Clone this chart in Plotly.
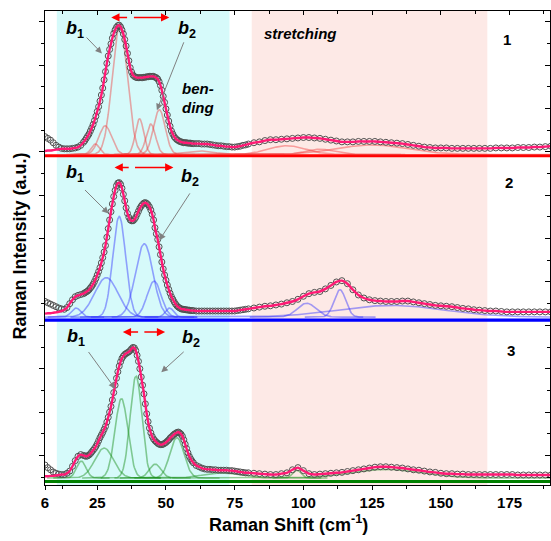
import numpy as np
import plotly.graph_objects as go

# ---------------- data ----------------
X_LOW = list(range(6, 20))                      # 6..19 step 1
X_MID = [20 + 0.5 * i for i in range(81)]       # 20..60 step 0.5
X_HIGH = list(range(61, 81))                    # 61..80 step 1
X_TAIL = list(range(82, 191, 2))                # 82..190 step 2

# Panel 1 (red) measured intensity (a.u., above its baseline)
obs1_low = [0.44, 0.40, 0.36, 0.30, 0.24, 0.20, 0.17, 0.16, 0.16, 0.16, 0.17, 0.18, 0.20, 0.24]
fit1_low = [0.11, 0.12, 0.12, 0.13, 0.14, 0.15, 0.16, 0.16, 0.16, 0.16, 0.17, 0.18, 0.20, 0.24]
obs1_mid = [0.31, 0.35, 0.40, 0.45, 0.50, 0.57, 0.64, 0.72, 0.81, 0.91, 1.02, 1.13, 1.26, 1.40,
            1.56, 1.75, 1.94, 2.13, 2.30, 2.45, 2.58, 2.71, 2.82, 2.90, 2.96, 3.00, 3.01, 2.97,
            2.90, 2.81, 2.68, 2.53, 2.36, 2.19, 2.03, 1.93, 1.86, 1.83, 1.81, 1.80, 1.80, 1.80,
            1.80, 1.80, 1.81, 1.81, 1.82, 1.82, 1.83, 1.83, 1.83, 1.83, 1.81, 1.80, 1.77, 1.71,
            1.62, 1.51, 1.37, 1.23, 1.08, 0.94, 0.80, 0.68, 0.57, 0.50, 0.44, 0.40, 0.37, 0.35,
            0.33, 0.32, 0.31, 0.30, 0.30, 0.30, 0.29, 0.29, 0.29, 0.28, 0.28]
obs1_high = [0.28, 0.28, 0.27, 0.27, 0.27, 0.26, 0.25, 0.24, 0.23, 0.23, 0.22, 0.21, 0.21, 0.20,
             0.20, 0.21, 0.22, 0.24, 0.25, 0.27]
obs1_tail = [0.30, 0.32, 0.35, 0.37, 0.37, 0.38, 0.39, 0.40, 0.41, 0.42, 0.42, 0.41, 0.40, 0.38,
             0.36, 0.34, 0.32, 0.32, 0.32, 0.33, 0.33, 0.33, 0.33, 0.32, 0.31, 0.30, 0.29, 0.28,
             0.26, 0.24, 0.22, 0.20, 0.19, 0.18, 0.18, 0.18, 0.17, 0.17, 0.17, 0.17, 0.17, 0.17,
             0.17, 0.17, 0.18, 0.18, 0.18, 0.18, 0.19, 0.19, 0.19, 0.20, 0.20, 0.21, 0.22]

# Panel 2 (blue)
obs2_low = [0.43, 0.40, 0.37, 0.34, 0.31, 0.28, 0.26, 0.25, 0.29, 0.38, 0.47, 0.54, 0.57, 0.59]
fit2_low = [0.15, 0.16, 0.16, 0.17, 0.18, 0.19, 0.21, 0.24, 0.29, 0.38, 0.47, 0.54, 0.57, 0.59]
obs2_mid = [0.61, 0.63, 0.65, 0.67, 0.70, 0.74, 0.78, 0.83, 0.89, 0.96, 1.04, 1.12, 1.21, 1.32,
            1.44, 1.57, 1.72, 1.91, 2.11, 2.31, 2.50, 2.68, 2.85, 2.99, 3.10, 3.16, 3.17, 3.13,
            3.04, 2.90, 2.75, 2.59, 2.46, 2.37, 2.31, 2.29, 2.29, 2.32, 2.37, 2.44, 2.51, 2.58,
            2.63, 2.67, 2.70, 2.71, 2.69, 2.66, 2.61, 2.54, 2.44, 2.31, 2.13, 1.99, 1.86, 1.69,
            1.51, 1.34, 1.18, 1.04, 0.92, 0.81, 0.71, 0.62, 0.54, 0.48, 0.42, 0.37, 0.33, 0.30,
            0.28, 0.26, 0.25, 0.25, 0.24, 0.24, 0.23, 0.23, 0.22, 0.22, 0.22]
obs2_high = [0.21, 0.21, 0.21, 0.21, 0.21, 0.21, 0.21, 0.21, 0.21, 0.21, 0.21, 0.21, 0.21, 0.21,
             0.21, 0.22, 0.23, 0.24, 0.25, 0.26]
obs2_tail = [0.28, 0.30, 0.32, 0.33, 0.35, 0.37, 0.40, 0.43, 0.48, 0.55, 0.61, 0.64, 0.66, 0.72,
             0.80, 0.88, 0.91, 0.84, 0.70, 0.58, 0.51, 0.47, 0.45, 0.44, 0.43, 0.43, 0.43, 0.44,
             0.44, 0.42, 0.40, 0.38, 0.36, 0.34, 0.33, 0.32, 0.31, 0.29, 0.27, 0.26, 0.24, 0.23,
             0.22, 0.21, 0.21, 0.20, 0.19, 0.19, 0.19, 0.19, 0.19, 0.19, 0.19, 0.19, 0.19]

# Panel 3 (green)
obs3_low = [0.38, 0.32, 0.27, 0.22, 0.19, 0.17, 0.16, 0.16, 0.19, 0.24, 0.35, 0.48, 0.58, 0.62]
fit3_low = [0.12, 0.12, 0.13, 0.13, 0.14, 0.15, 0.16, 0.16, 0.19, 0.24, 0.35, 0.48, 0.58, 0.62]
obs3_mid = [0.60, 0.59, 0.58, 0.59, 0.61, 0.64, 0.68, 0.72, 0.76, 0.81, 0.87, 0.94, 1.01, 1.07,
            1.13, 1.20, 1.27, 1.37, 1.48, 1.60, 1.73, 1.88, 2.05, 2.22, 2.38, 2.53, 2.66, 2.76,
            2.84, 2.89, 2.93, 2.95, 2.97, 2.99, 3.02, 3.06, 3.09, 3.08, 3.02, 2.91, 2.77, 2.60,
            2.41, 2.22, 2.02, 1.79, 1.56, 1.38, 1.23, 1.12, 1.04, 0.98, 0.94, 0.91, 0.88, 0.86,
            0.85, 0.85, 0.86, 0.88, 0.90, 0.93, 0.96, 1.00, 1.03, 1.06, 1.09, 1.11, 1.13, 1.14,
            1.12, 1.09, 1.04, 0.96, 0.86, 0.76, 0.66, 0.58, 0.52, 0.47, 0.43]
obs3_high = [0.37, 0.34, 0.31, 0.29, 0.28, 0.28, 0.27, 0.27, 0.26, 0.26, 0.26, 0.26, 0.25, 0.25,
             0.24, 0.23, 0.22, 0.21, 0.20, 0.20]
obs3_tail = [0.19, 0.18, 0.17, 0.16, 0.16, 0.18, 0.20, 0.27, 0.32, 0.25, 0.18, 0.16, 0.17, 0.18,
             0.19, 0.20, 0.21, 0.23, 0.25, 0.27, 0.29, 0.31, 0.33, 0.34, 0.34, 0.33, 0.32, 0.31,
             0.29, 0.27, 0.26, 0.24, 0.22, 0.21, 0.19, 0.18, 0.18, 0.17, 0.17, 0.16, 0.16, 0.16,
             0.16, 0.16, 0.16, 0.16, 0.16, 0.16, 0.15, 0.15, 0.15, 0.15, 0.15, 0.15, 0.15]

# Fitted component peaks: centre (cm-1), height (a.u.), FWHM (cm-1)
peak1_center = [24.3, 27.9, 33.2, 40.4, 44.5, 47.6, 62.0, 94.0, 106.0, 125.0]
peak1_height = [0.24, 0.66, 2.95, 0.82, 0.70, 1.03, 0.08, 0.20, 0.12, 0.22]
peak1_fwhm = [3.5, 5.5, 6.5, 3.6, 4.0, 5.0, 12.0, 16.0, 12.0, 30.0]

peak2_center = [17.3, 28.3, 33.0, 42.1, 45.7, 51.3, 101.2, 113.3, 132.0]
peak2_height = [0.21, 0.91, 2.32, 1.69, 0.83, 0.21, 0.32, 0.63, 0.27]
peak2_fwhm = [4.0, 10.0, 5.5, 7.5, 6.0, 3.5, 8.0, 5.0, 45.0]

peak3_center = [19.2, 27.5, 33.8, 39.1, 46.1, 54.0, 70.0, 97.6, 130.0]
peak3_height = [0.39, 0.69, 1.83, 2.35, 0.32, 0.93, 0.12, 0.18, 0.20]
peak3_fwhm = [4.0, 8.0, 5.5, 5.0, 5.0, 6.0, 15.0, 3.5, 30.0]

X_TICKS = [6, 25, 50, 75, 100, 125, 150, 175]
X_TICK_TEXT = ["6", "25", "50", "75", "100", "125", "150", "175"]
PANEL_LABELS = ["1", "2", "3"]

# ---------------- layout constants (positions / styles) ----------------
X_RANGE = [6, 189.7]
Y_RANGE = [-0.681, 10.247]
OFFSETS = [6.91, 3.12, -0.60]          # vertical stacking of the three spectra
COMP_BASE = [0.03, 0.07, 0.08]
BASE_COLORS = ["#ff0000", "#0000ff", "#008000"]
COMP_COLORS = ["rgba(240,50,50,0.42)", "rgba(50,50,255,0.45)", "rgba(20,140,20,0.45)"]
FIT_COLOR = "#ff1a75"
FONT = "Liberation Sans, Arial, sans-serif"

x_all = X_LOW + X_MID + X_HIGH + X_TAIL
panels = [
    (obs1_low + obs1_mid + obs1_high + obs1_tail, fit1_low + obs1_mid + obs1_high + obs1_tail,
     peak1_center, peak1_height, peak1_fwhm),
    (obs2_low + obs2_mid + obs2_high + obs2_tail, fit2_low + obs2_mid + obs2_high + obs2_tail,
     peak2_center, peak2_height, peak2_fwhm),
    (obs3_low + obs3_mid + obs3_high + obs3_tail, fit3_low + obs3_mid + obs3_high + obs3_tail,
     peak3_center, peak3_height, peak3_fwhm),
]

fig = go.Figure()

# background regions
fig.add_shape(type="rect", xref="x", yref="paper", x0=10.3, x1=73.1, y0=0, y1=1,
              fillcolor="#d6fafa", line=dict(width=0), layer="below")
fig.add_shape(type="rect", xref="x", yref="paper", x0=81.2, x1=166.9, y0=0, y1=1,
              fillcolor="#fde9e6", line=dict(width=0), layer="below")

xs = np.linspace(6, 190, 737)
for i, (obs, fit, pc, ph, pw) in enumerate(panels):
    off = OFFSETS[i]
    # baseline
    fig.add_trace(go.Scatter(x=[X_RANGE[0], 190], y=[off, off], mode="lines",
                             line=dict(color=BASE_COLORS[i], width=3.2), hoverinfo="skip"))
    # components
    for c, h, w in zip(pc, ph, pw):
        sel = (xs > c - 2.6 * w) & (xs < c + 2.6 * w)
        xx = xs[sel]
        yy = off + COMP_BASE[i] + h * np.exp(-4 * np.log(2) * ((xx - c) / w) ** 2)
        fig.add_trace(go.Scatter(x=xx, y=yy, mode="lines",
                                 line=dict(color=COMP_COLORS[i], width=1.6), hoverinfo="skip"))
    # measured points
    fig.add_trace(go.Scatter(x=x_all, y=[off + v for v in obs], mode="markers",
                             marker=dict(symbol="circle-open", size=6, color="#505050",
                                         line=dict(width=1, color="#505050"))))
    # cumulative fit
    fig.add_trace(go.Scatter(x=x_all, y=[off + v for v in fit], mode="lines",
                             line=dict(color=FIT_COLOR, width=2.4, shape="spline", smoothing=0.5)))

# dummy trace to carry the mirrored (inside-tick) axes
fig.add_trace(go.Scatter(x=[None], y=[None], xaxis="x2", yaxis="y2", hoverinfo="skip"))

minor_x = [12.5 + 25 * k for k in range(8)]
fig.update_layout(
    width=551, height=541,
    margin=dict(l=45, r=1, t=11, b=56, autoexpand=False),
    plot_bgcolor="white", paper_bgcolor="white",
    showlegend=False,
    font=dict(family=FONT, color="black"),
    xaxis=dict(range=X_RANGE, tickvals=X_TICKS, ticktext=X_TICK_TEXT, ticks="outside",
               ticklen=4, tickwidth=1, tickcolor="black", showline=True, linecolor="black",
               linewidth=1, showgrid=False, zeroline=False, automargin=False,
               tickfont=dict(size=15, family=FONT, weight="bold", color="black"),
               minor=dict(tickvals=minor_x, ticks="outside", ticklen=3, tickcolor="black")),
    xaxis2=dict(range=X_RANGE, overlaying="x", side="top", anchor="y", tickvals=X_TICKS[1:],
                ticks="inside", ticklen=4, tickcolor="black", showticklabels=False,
                showline=True, linecolor="black", linewidth=1, showgrid=False, zeroline=False,
                automargin=False,
                minor=dict(tickvals=minor_x, ticks="inside", ticklen=3, tickcolor="black")),
    yaxis=dict(range=Y_RANGE, tick0=0, dtick=1, ticks="outside", ticklen=5, tickcolor="black",
               showticklabels=False, showline=True, linecolor="black", linewidth=1,
               showgrid=False, zeroline=False, automargin=False,
               minor=dict(dtick=0.5, tick0=0, ticks="outside", ticklen=3, tickcolor="black")),
    yaxis2=dict(range=Y_RANGE, overlaying="y", side="right", anchor="x", tick0=0, dtick=1,
                ticks="inside", ticklen=5, tickcolor="black", showticklabels=False,
                showline=True, linecolor="black", linewidth=1, showgrid=False, zeroline=False,
                automargin=False,
                minor=dict(dtick=0.5, tick0=0, ticks="inside", ticklen=3, tickcolor="black")),
)

ann = []
# axis titles
ann.append(dict(text="Raman Shift (cm<sup>-1</sup>)", xref="paper", yref="paper",
                x=0.483, y=-0.082, showarrow=False, xanchor="center", yanchor="middle",
                font=dict(size=18, family=FONT, weight="bold", color="black")))
ann.append(dict(text="Raman Intensity (a.u.)", xref="paper", yref="paper",
                x=-0.0485, y=0.504, showarrow=False, textangle=-90, xanchor="center",
                yanchor="middle", font=dict(size=18, family=FONT, weight="bold", color="black")))

b_font = dict(size=18, family=FONT, weight="bold", color="black")
labels = [
    ((17.0, 9.83), (26.7, 9.27), (20.6, 9.67), (57.8, 9.83), (46.7, 7.96), (56.7, 9.56),
     10.10, (30.1, 36.4), (51.2, 37.8), (173.9, 9.60)),
    ((16.8, 6.50), (29.1, 5.58), (20.0, 6.155), (58.6, 6.42), (47.6, 4.96), (59.05, 6.077),
     6.64, (31.3, 37.0), (52.7, 38.2), (174.9, 6.29)),
    ((17.3, 2.73), (31.5, 1.54), (21.45, 2.42), (59.2, 2.70), (48.3, 1.92), (57.0, 2.42),
     2.845, (34.3, 40.4), (49.7, 41.6), (175.5, 2.42)),
]
for i, (b1, h1, t1, b2, h2, t2, ry, rl, rr, npos) in enumerate(labels):
    ann.append(dict(text="<i>b</i><sub>1</sub>", x=b1[0], y=b1[1], xref="x", yref="y",
                    showarrow=False, font=b_font))
    ann.append(dict(text="<i>b</i><sub>2</sub>", x=b2[0], y=b2[1], xref="x", yref="y",
                    showarrow=False, font=b_font))
    for head, tail in ((h1, t1), (h2, t2)):
        ann.append(dict(text="", x=head[0], y=head[1], ax=tail[0], ay=tail[1], xref="x", yref="y",
                        axref="x", ayref="y", showarrow=True, arrowhead=2, arrowsize=1.3,
                        arrowwidth=1, arrowcolor="#808080", standoff=0, startstandoff=0))
    ann.append(dict(text="", x=rl[0], y=ry, ax=rl[1], ay=ry, xref="x", yref="y", axref="x",
                    ayref="y", showarrow=True, arrowhead=2, arrowsize=1.1, arrowwidth=1.5,
                    arrowcolor="#ff0000", standoff=0, startstandoff=0))
    ann.append(dict(text="", x=rr[0], y=ry, ax=rr[1], ay=ry, xref="x", yref="y", axref="x",
                    ayref="y", showarrow=True, arrowhead=2, arrowsize=1.1, arrowwidth=1.5,
                    arrowcolor="#ff0000", standoff=0, startstandoff=0))
    ann.append(dict(text=PANEL_LABELS[i], x=npos[0], y=npos[1], xref="x", yref="y",
                    showarrow=False, font=dict(size=15, family=FONT, weight="bold", color="black")))

it_font = dict(size=15, family=FONT, weight="bold", color="black")
ann.append(dict(text="<i>ben-</i>", x=55.1, y=8.45, xref="x", yref="y", xanchor="left",
                showarrow=False, font=it_font))
ann.append(dict(text="<i>ding</i>", x=55.1, y=8.03, xref="x", yref="y", xanchor="left",
                showarrow=False, font=it_font))
ann.append(dict(text="<i>stretching</i>", x=85.0, y=9.72, xref="x", yref="y", xanchor="left",
                showarrow=False, font=it_font))

fig.update_layout(annotations=ann)
fig.write_html("out.html", config={"displayModeBar": False},
               post_script="document.body.style.margin='0px';")
